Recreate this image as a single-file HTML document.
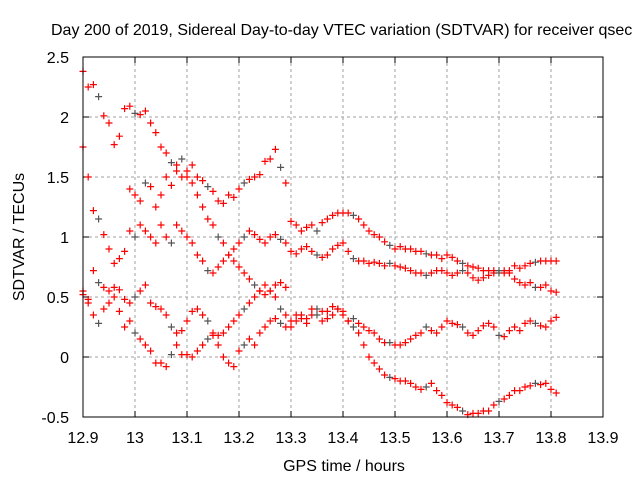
<!DOCTYPE html>
<html><head><meta charset="utf-8"><style>
body{margin:0;background:#fff}
svg{display:block;font-family:"Liberation Sans",sans-serif}
</style></head><body>
<svg id="chart" width="640" height="480" xmlns="http://www.w3.org/2000/svg">
<rect width="640" height="480" fill="#fff"/>
<text x="51" y="35" font-size="16" text-anchor="start">Day 200 of 2019, Sidereal Day-to-day VTEC variation (SDTVAR) for receiver qsec</text>
<text x="344" y="471" font-size="16" text-anchor="middle">GPS time / hours</text>
<text transform="translate(24,237) rotate(-90)" font-size="16" text-anchor="middle">SDTVAR / TECUs</text>
<g id="grid"></g><g id="ticks"></g><g id="marks"></g>
<rect x="83" y="57" width="520" height="360" fill="none" stroke="#000" stroke-width="1"/>
</svg>
<script>
const xTicks=[12.9,13,13.1,13.2,13.3,13.4,13.5,13.6,13.7,13.8,13.9];
const xTickLabels=["12.9","13","13.1","13.2","13.3","13.4","13.5","13.6","13.7","13.8","13.9"];
const yTicks=[-0.5,0,0.5,1,1.5,2,2.5];
const yTickLabels=["-0.5","0","0.5","1","1.5","2","2.5"];
const seriesStart=[12.90,12.90,12.90,12.90,12.99];
const sampleStep=0.01;
const track1=[2.38,2.25,2.27,2.17,2.01,1.95,1.77,1.84,2.07,2.09,2.03,2.02,2.05,1.95,1.87,1.75,1.70,1.62,1.55,1.50,1.55,1.60,1.50,1.47,1.42,1.38,1.30,1.28,1.35,1.33,1.40,1.45,1.48,1.50,1.52,1.63,1.65,1.73,1.58,1.45,
1.13,1.10,1.05,1.08,1.10,1.05,1.12,1.15,1.18,1.20,1.20,1.20,1.18,1.15,1.10,1.05,1.02,1.00,0.96,0.93,0.90,0.92,0.90,0.90,0.88,0.88,0.86,0.85,0.85,0.82,0.85,0.83,0.80,0.78,0.76,0.75,0.74,0.72,0.72,0.70,0.70,0.72,0.70,0.65,0.62,0.60,0.62,0.58,0.58,0.60,0.55,0.54];
const track2=[1.75,1.50,1.22,1.15,1.02,0.90,0.78,0.82,0.88,1.05,1.00,1.10,1.05,1.00,0.95,1.10,1.00,0.95,1.10,1.05,1.00,0.95,0.85,0.80,0.72,0.70,0.75,0.80,0.85,0.90,0.95,1.00,1.05,1.02,0.98,0.95,1.00,1.02,0.98,0.95,
0.88,0.86,0.90,0.92,0.88,0.85,0.83,0.85,0.90,0.93,0.95,0.88,0.82,0.80,0.80,0.78,0.79,0.78,0.76,0.78,0.76,0.75,0.74,0.72,0.70,0.70,0.68,0.70,0.72,0.72,0.70,0.68,0.70,0.72,0.70,0.66,0.64,0.66,0.68,0.72,0.72,0.70,0.72,0.76,0.74,0.76,0.78,0.79,0.80,0.80,0.80,0.80];
const track3=[0.55,0.48,0.72,0.62,0.58,0.55,0.58,0.56,0.48,0.45,0.50,0.55,0.60,0.45,0.42,0.40,0.35,0.25,0.20,0.22,0.30,0.38,0.40,0.35,0.30,0.20,0.18,0.20,0.25,0.30,0.35,0.40,0.45,0.50,0.55,0.60,0.55,0.50,0.40,0.35,
0.30,0.35,0.32,0.28,0.35,0.40,0.38,0.32,0.35,0.40,0.38,0.30,0.32,0.28,0.25,0.22,0.20,0.15,0.12,0.12,0.10,0.10,0.12,0.15,0.18,0.20,0.25,0.22,0.20,0.25,0.30,0.28,0.27,0.25,0.20,0.18,0.22,0.26,0.28,0.25,0.18,0.17,0.22,0.25,0.22,0.28,0.30,0.28,0.26,0.25,0.30,0.33];
const track4=[0.52,0.45,0.35,0.28,0.40,0.45,0.50,0.38,0.25,0.30,0.20,0.15,0.10,0.05,-0.05,-0.05,-0.08,0.02,0.10,0.02,0.02,0.00,0.05,0.10,0.15,0.18,0.10,0.00,-0.05,-0.08,0.05,0.10,0.15,0.10,0.20,0.25,0.30,0.32,0.28,0.25,
0.25,0.30,0.35,0.32,0.40,0.35,0.30,0.38,0.42,0.40,0.35,0.30,0.25,0.20,0.10,0.00,-0.05,-0.10,-0.15,-0.17,-0.18,-0.20,-0.20,-0.22,-0.25,-0.27,-0.25,-0.22,-0.28,-0.32,-0.38,-0.40,-0.42,-0.45,-0.48,-0.47,-0.47,-0.45,-0.45,-0.40,-0.37,-0.35,-0.32,-0.28,-0.28,-0.25,-0.24,-0.22,-0.23,-0.22,-0.27,-0.30];
const track5=[1.40,1.35,1.30,1.45,1.42,1.25,1.35,1.50,1.43,1.60,1.65,1.50,1.45,1.35,1.25,1.15,1.10,1.00,0.95,0.85,0.80,0.75,0.70,0.65,0.60,0.55,0.52,0.55,0.60,0.62,0.58];

const NS="http://www.w3.org/2000/svg";
const X0=83,X1=603,Y0=417,Y1=57;
function xs(v){return X0+(v-12.9)/(13.9-12.9)*(X1-X0);}
function ys(v){return Y0-(v+0.5)/(2.5+0.5)*(Y0-Y1);}
function mk(tag,parent){const e=document.createElementNS(NS,tag);parent.appendChild(e);return e;}
const grid=document.getElementById('grid'),ticks=document.getElementById('ticks'),marks=document.getElementById('marks');
xTicks.forEach((t,i)=>{
  const x=xs(t);
  if(i>0&&i<xTicks.length-1){
    const g=mk('line',grid);
    
    
    g.setAttribute('x1',x);g.setAttribute('x2',x);g.setAttribute('y1',Y1);g.setAttribute('y2',Y0);
    g.setAttribute('stroke','#a0a0a0');g.setAttribute('stroke-dasharray','3,3');
  }
  const tk=mk('path',ticks);
  
  
  tk.setAttribute('d',`M${x},${Y0}v-6M${x},${Y1}v6`);tk.setAttribute('stroke','#000');
  const l=mk('text',ticks);
  
  
  l.setAttribute('x',x);l.setAttribute('y',443);l.setAttribute('font-size','16');l.setAttribute('text-anchor','middle');
  l.textContent=xTickLabels[i];
});
yTicks.forEach((t,i)=>{
  const y=ys(t);
  if(i>0&&i<yTicks.length-1){
    const g=mk('line',grid);
    
    
    g.setAttribute('x1',X0);g.setAttribute('x2',X1);g.setAttribute('y1',y);g.setAttribute('y2',y);
    g.setAttribute('stroke','#a0a0a0');g.setAttribute('stroke-dasharray','3,3');
  }
  const tk=mk('path',ticks);
  
  
  tk.setAttribute('d',`M${X0},${y}h6M${X1},${y}h-6`);tk.setAttribute('stroke','#000');
  const l=mk('text',ticks);
  
  
  l.setAttribute('x',69);l.setAttribute('y',y+6);l.setAttribute('font-size','16');l.setAttribute('text-anchor','end');
  l.textContent=yTickLabels[i];
});
[track1,track2,track3,track4,track5].forEach((tr,s)=>{
  tr.forEach((v,i)=>{
    const x=xs(seriesStart[s]+i*sampleStep),y=ys(v);
    const p=mk('path',marks);
    
    
    p.setAttribute('d',`M${x-3.5},${y}h7M${x},${y-3.5}v7`);
    p.setAttribute('stroke',(i%7===3)?'#555':'#ff0000');p.setAttribute('stroke-width','1.2');
  });
});
</script>
</body></html>
